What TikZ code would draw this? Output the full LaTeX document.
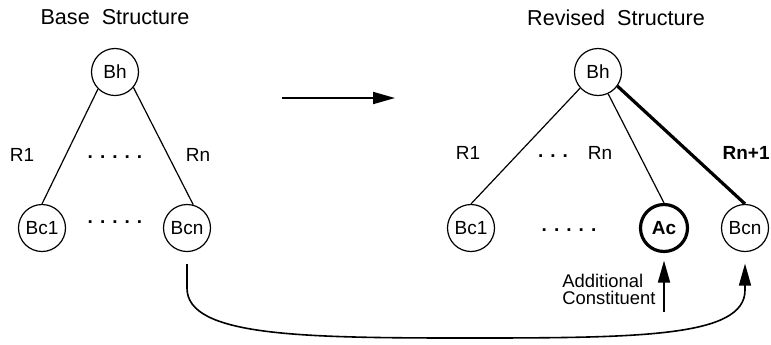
\documentclass[tikz,border=0pt]{standalone}
\usepackage{fontspec}
\setmainfont{Liberation Sans}
\usepackage{tikz}
\usetikzlibrary{arrows.meta,positioning,calc}

\begin{document}
\begin{tikzpicture}[
    x=0.5pt, y=-0.5pt,
    unit/.style={circle,draw,line width=0.6pt,minimum size=23.5pt,inner sep=0pt,font=\fontsize{9.5}{11}\selectfont},
    added/.style={unit,line width=1.6pt,font=\fontsize{9.5}{11}\selectfont\bfseries},
    lbl/.style={font=\fontsize{9.5}{11}\selectfont},
    heading/.style={font=\fontsize{10.8}{13}\selectfont},
    dots/.style={font=\fontsize{9.5}{11}\selectfont\bfseries,anchor=base},
    link/.style={line width=0.6pt},
    >={Triangle[length=11pt,width=6pt]}
  ]
  \useasboundingbox (0,0) rectangle (771,344);
  % Base structure
  \node[heading] (lhead) at (115,17) {Base\ \ Structure};
  \node[unit] (lbh)  at (115,72)  {Bh};
  \node[unit] (lbc1) at (42,228)  {Bc1};
  \node[unit] (lbcn) at (187,228) {Bcn};
  \draw[link] (lbh.-135) -- (lbc1.north);
  \draw[link] (lbh.-40)  -- (lbcn.75);
  \node[lbl] (lr1) at (22,155)  {R1};
  \node[lbl] (lrn) at (198,155) {Rn};
  \node[dots] (ldots)  at (115,158) {. . . . .};
  \node[dots] (ldots2) at (115,223) {. . . . .};
  % Revision arrow
  \coordinate (mfrom) at (282,98);
  \coordinate (mto)   at (395,98);
  \draw[->,line width=0.9pt] (mfrom) -- (mto);
  % Revised structure
  \node[heading] (rhead) at (616,18) {Revised\ \ Structure};
  \node[unit]  (rbh)  at (598,72)  {Bh};
  \node[unit]  (rbc1) at (471,228) {Bc1};
  \node[added] (rac)  at (664,228) {Ac};
  \node[unit]  (rbcn) at (745,228) {Bcn};
  \draw[link] (rbh.-138) -- (rbc1.north);
  \draw[link] (rbh.-65)  -- (rac.north);
  \draw[line width=1.6pt] (rbh.-36) -- (rbcn.north);
  \node[lbl] (rr1) at (468,153) {R1};
  \node[dots] (rdots) at (553,157) {. . .};
  \node[lbl] (rrn) at (600,153) {Rn};
  \node[lbl,font=\fontsize{9.5}{11}\selectfont\bfseries,anchor=east,inner sep=0pt] (rrn1) at (770,153) {Rn+1};
  \node[dots] (rdots2) at (569,231) {. . . . .};
  % Additional constituent
  \coordinate (acin) at (664,312);
  \draw[->,line width=0.9pt,shorten >=3.75pt] (acin) -- (rac.south);
  \node[align=left,anchor=west,inner sep=0pt,font=\fontsize{9.2}{8.5}\selectfont] (addtxt) at (562,289) {Additional\\Constituent};
  % Constituent moved
  \draw[->,line width=0.8pt,shorten <=6pt,shorten >=5.75pt]
    (lbcn.south) -- ++(0,36)
    .. controls +(0,48) and (300,338) .. (466,338)
    .. controls (640,338) and ($(rbcn.south)+(0,85)$) .. ($(rbcn.south)+(0,38)$)
    -- (rbcn.south);
\end{tikzpicture}
\end{document}
